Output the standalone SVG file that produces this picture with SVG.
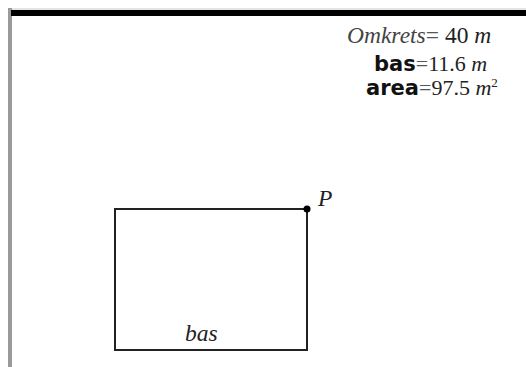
<svg xmlns="http://www.w3.org/2000/svg" width="526" height="367" viewBox="0 0 526 367">
<style>
.serif{font-family:"Liberation Serif","Times New Roman",serif;font-size:23.5px;fill:#222}
.s2{font-size:22px}
.it{font-style:italic}
.eq{fill:#555}
.sup{font-size:13px}
.bold{font-family:"DejaVu Sans",Verdana,sans-serif;font-weight:bold;font-size:21px;fill:#111}
.edge{fill:none;stroke:#222;stroke-width:2}
</style>
<rect width="526" height="367" fill="#fff"/>
<g id="frame">
<rect x="8" y="8" width="518" height="2" fill="#e4e4e4"/>
<rect x="8" y="8" width="4" height="359" fill="#9a9a9a"/>
<rect x="11" y="10" width="515" height="6" fill="#000"/>
</g>
<g id="readout">
<text class="serif" x="347" y="43"><tspan class="it" fill="#444">Omkrets</tspan><tspan class="eq">=</tspan> 40 <tspan class="it">m</tspan></text>
<text x="374" y="71"><tspan class="bold">bas</tspan><tspan class="serif s2 eq">=</tspan><tspan class="serif s2">11.6 </tspan><tspan class="serif s2 it">m</tspan></text>
<text x="366" y="95"><tspan class="bold">area</tspan><tspan class="serif s2 eq">=</tspan><tspan class="serif s2">97.5 </tspan><tspan class="serif s2 it">m</tspan><tspan class="serif sup" dy="-8">2</tspan></text>
</g>
<g id="connectors">
<rect class="edge" x="115" y="209" width="192" height="141"/>
</g>
<g id="P">
<circle cx="307" cy="209" r="3.5" fill="#000"/>
<text class="serif it" x="318" y="206">P</text>
</g>
<g id="label-bas">
<text class="serif it" x="185" y="341">bas</text>
</g>
</svg>
